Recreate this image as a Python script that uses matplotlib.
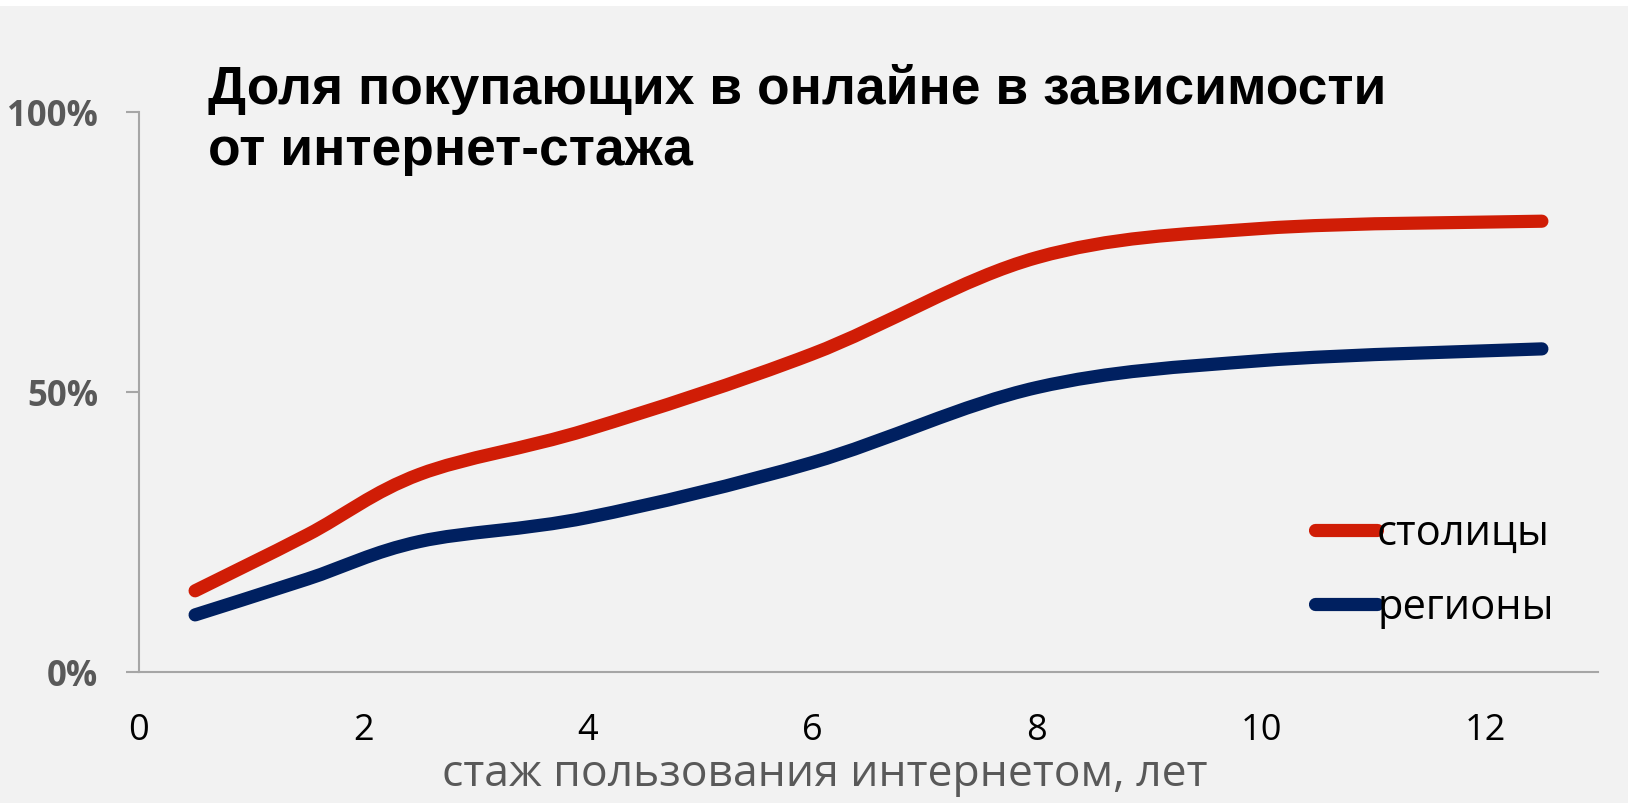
import matplotlib.pyplot as plt
from matplotlib.path import Path
from matplotlib.patches import PathPatch, Rectangle
from matplotlib.lines import Line2D

# данные (доля покупающих, %)
years = [0.5, 1.5, 2.5, 4, 6, 8, 10, 12.5]
capitals = [14.5, 24.5, 35.3, 43.3, 56.8, 74.0, 79.2, 80.5]
regions = [10.2, 16.6, 23.3, 27.6, 37.4, 50.8, 55.6, 57.7]
series_names = ['столицы', 'регионы']
series_colors = ['#d01d06', '#002060']
x_ticks = [0, 2, 4, 6, 8, 10, 12]
y_ticks = [0, 50, 100]
y_tick_labels = ['0%', '50%', '100%']
title = 'Доля покупающих в онлайне в зависимости\nот интернет-стажа'
x_label = 'стаж пользования интернетом, лет'

W, H = 1628, 804
GRAY = '#595959'
AXIS = '#a6a6a6'


def smooth_path(xs, ys):
    """Сглаженная линия как в Excel: кривые Безье через точки."""
    pts = list(zip(xs, ys))
    n = len(pts)
    verts = [pts[0]]
    codes = [Path.MOVETO]
    for i in range(n - 1):
        p0 = pts[max(i - 1, 0)]
        p1 = pts[i]
        p2 = pts[i + 1]
        p3 = pts[min(i + 2, n - 1)]
        c1 = (p1[0] + (p2[0] - p0[0]) / 6, p1[1] + (p2[1] - p0[1]) / 6)
        c2 = (p2[0] - (p3[0] - p1[0]) / 6, p2[1] - (p3[1] - p1[1]) / 6)
        verts += [c1, c2, p2]
        codes += [Path.CURVE4] * 3
    return Path(verts, codes)


fig = plt.figure(figsize=(W / 100, H / 100), dpi=100, facecolor='white')
fig.patches.append(Rectangle((0, 0), 1, 797 / H, transform=fig.transFigure,
                             facecolor='#f2f2f2', edgecolor='none', zorder=-10))

ax = fig.add_axes([139 / W, 1 - 673 / H, 1459 / W, 560 / H])
ax.set_facecolor('none')
ax.set_xlim(0, 13)
ax.set_ylim(0, 100)

handles = []
for ys, name, color in zip([capitals, regions], series_names, series_colors):
    patch = PathPatch(smooth_path(years, ys), facecolor='none', edgecolor=color,
                      lw=9.5, capstyle='round', joinstyle='round', zorder=3)
    ax.add_patch(patch)
    handles.append(Line2D([], [], color=color, lw=9.5, solid_capstyle='round'))

for side in ['top', 'right']:
    ax.spines[side].set_visible(False)
for side in ['left', 'bottom']:
    ax.spines[side].set_color(AXIS)
    ax.spines[side].set_linewidth(1.5)

ax.set_xticks(x_ticks)
ax.set_xticklabels([str(t) for t in x_ticks], fontfamily='Open Sans', fontsize=26, color='black')
ax.tick_params(axis='x', length=0, pad=29)
ax.set_yticks(y_ticks)
ax.set_yticklabels(y_tick_labels, fontfamily='Open Sans', fontweight='bold', fontsize=25, color=GRAY)
ax.tick_params(axis='y', length=9.4, width=1.5, color=AXIS, pad=20)

ax.set_xlabel(x_label, fontfamily='Open Sans', fontsize=32, color=GRAY, va='baseline')
ax.xaxis.set_label_coords((825 - 139) / 1459, (673 - 786) / 560)

ax.legend(handles, series_names, loc='upper left', bbox_to_anchor=((1315 - 139) / 1459, 0.285),
          frameon=False, handlelength=1.49, handletextpad=0.0, borderpad=0, borderaxespad=0,
          labelspacing=0.77, prop={'family': 'Open Sans', 'size': 30})

fig.text(208 / W, 1 - 64 / H, title, fontfamily='Liberation Sans', fontweight='bold', fontsize=38.4,
         color='black', va='top', ha='left', linespacing=1.28)

fig.savefig('out.png', dpi=100, facecolor=fig.get_facecolor())
